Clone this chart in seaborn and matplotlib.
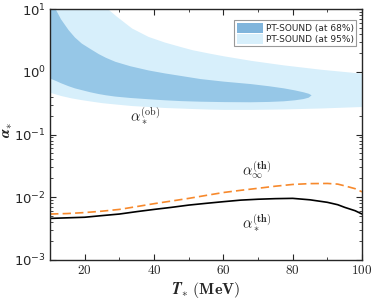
import numpy as np
import pandas as pd
import seaborn as sns
import matplotlib
matplotlib.use("Agg")
from matplotlib import pyplot as plt
from matplotlib.patches import Patch
from matplotlib.ticker import FixedLocator, FuncFormatter, LogLocator, MultipleLocator

# PT-SOUND 95% band (light)
t_95 = [10, 13, 16, 19, 22, 25, 26.7, 29, 33.5, 38.3, 43, 47.9, 51, 55.6, 60, 68, 77.3, 88, 100]
lo_95 = [0.47, 0.42, 0.385, 0.36, 0.34, 0.322, 0.315, 0.306, 0.29, 0.28, 0.27, 0.264,
         0.26, 0.255, 0.252, 0.252, 0.256, 0.265, 0.28]
hi_95 = [60, 40, 28, 20, 15, 11.5, 10, 7.8, 5.0, 3.66, 2.98, 2.5, 2.25, 2.0, 1.8, 1.52,
         1.29, 1.1, 0.95]

# PT-SOUND 68% band (dark), closes at the tip
t_68 = [10, 11.5, 13, 15.2, 17, 19, 21.5, 23.9, 26, 28.7, 33, 38.3, 43, 47.9, 53.3, 60,
        67.7, 73, 77.3, 80.5, 83, 84.5, 85.3]
lo_68 = [0.79, 0.73, 0.67, 0.6, 0.555, 0.52, 0.48, 0.45, 0.43, 0.41, 0.39, 0.372, 0.358,
         0.347, 0.34, 0.335, 0.333, 0.337, 0.345, 0.358, 0.375, 0.395, 0.43]
hi_68 = [30, 10, 7.0, 4.7, 3.6, 2.87, 2.35, 1.95, 1.7, 1.47, 1.25, 1.07, 0.96, 0.87,
         0.78, 0.71, 0.65, 0.6, 0.555, 0.515, 0.48, 0.455, 0.43]

# theory curves
t_th = [10, 15, 20, 25, 30, 35, 40, 45, 50, 55, 60, 65, 70, 75, 80, 85, 90, 93, 95, 98, 100]
alpha_star_th = [0.0046, 0.0047, 0.0048, 0.0051, 0.0054, 0.0059, 0.0064, 0.0069, 0.0075,
                 0.0080, 0.0085, 0.0090, 0.0093, 0.0095, 0.0096, 0.0091, 0.0083, 0.0076,
                 0.0069, 0.0061, 0.0054]
alpha_inf_th = [0.0054, 0.0055, 0.0057, 0.0060, 0.0064, 0.0071, 0.0079, 0.0087, 0.0096,
                0.0107, 0.0119, 0.0129, 0.0139, 0.0150, 0.0160, 0.0165, 0.0166, 0.0162,
                0.0152, 0.0137, 0.0122]

sns.set_style("ticks")
plt.rcParams['mathtext.fontset'] = 'cm'
plt.rcParams['font.family'] = ['DejaVu Sans']

fig = plt.figure(figsize=(3.74, 3.03), dpi=100)
ax = fig.add_axes([0.134, 0.142, 0.834, 0.828])

light = '#d7effb'
dark = '#96c7e7'
ax.fill_between(t_95, lo_95, hi_95, color=light, lw=0)
ax.fill_between(t_68, lo_68, hi_68, color=dark, lw=0)

df = pd.DataFrame({'T': t_th, 'star': alpha_star_th, 'inf': alpha_inf_th})
sns.lineplot(data=df, x='T', y='star', color='black', lw=1.2, ax=ax)
sns.lineplot(data=df, x='T', y='inf', color='#f7892c', lw=1.2, ax=ax, dashes=False,
             linestyle=(0, (5, 2.5)))

ax.set_yscale('log')
ax.set_xlim(10, 100)
ax.set_ylim(1e-3, 10)

ax.xaxis.set_major_locator(FixedLocator([20, 40, 60, 80, 100]))
ax.xaxis.set_minor_locator(MultipleLocator(10))
ax.xaxis.set_major_formatter(FuncFormatter(lambda v, p: f"${v:.0f}$"))
ax.yaxis.set_major_locator(LogLocator(base=10, numticks=10))
ax.yaxis.set_minor_locator(LogLocator(base=10, subs=np.arange(2, 10), numticks=10))
ax.tick_params(which='both', direction='in', top=True, right=True, labelsize=9.5)
ax.tick_params(which='major', length=4, width=0.8, pad=3)
ax.tick_params(which='minor', length=2, width=0.6)
for s in ax.spines.values():
    s.set_linewidth(1.0)

ax.set_xlabel(r'$\mathbfit{T}_{\mathbf{*}}\ \mathbf{(MeV)}$', fontsize=11.5, labelpad=2)
ax.set_ylabel(r'$\mathbfit{\alpha}_{\mathbf{*}}$', fontsize=11)
ax.yaxis.set_label_coords(-0.113, 0.52)

ax.text(33, 0.16, r'$\alpha_*^{(\rm ob)}$', fontsize=10.5)
ax.text(65.5, 0.022, r'$\alpha_\infty^{(\mathbf{th})}$', fontsize=10.5)
ax.text(65.5, 0.0059, r'$\alpha_*^{(\mathbf{th})}$', fontsize=10.5, va='top')

handles = [Patch(facecolor='#80b5dc', edgecolor='none', label='PT-SOUND (at 68%)'),
           Patch(facecolor=light, edgecolor='none', label='PT-SOUND (at 95%)')]
leg = ax.legend(handles=handles, loc='upper right', fontsize=6.5, frameon=True, fancybox=False,
                edgecolor='#999999', framealpha=1, borderpad=0.25, handlelength=2.9,
                handleheight=1.4, handletextpad=0.3, labelspacing=0.05, borderaxespad=0,
                bbox_to_anchor=(0.98, 0.955))
leg.get_frame().set_linewidth(0.8)

fig.savefig('out.png', dpi=100)
